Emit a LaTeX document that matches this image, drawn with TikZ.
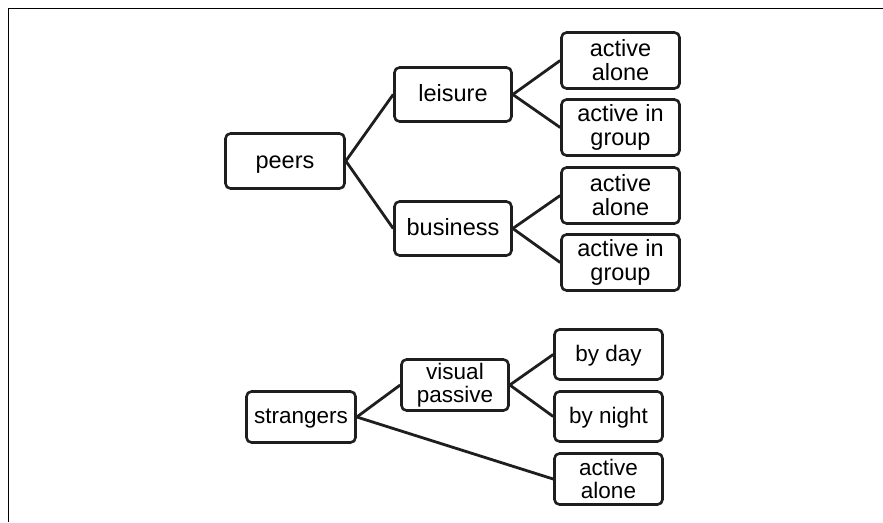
\documentclass[tikz,border=0pt]{standalone}
\usepackage{fontspec}
\setmainfont{Liberation Sans}
\definecolor{ink}{HTML}{1E1E1E}
\begin{document}
\begin{tikzpicture}[x=1pt,y=-1pt,
  box/.style={draw=ink,line width=2.6pt,rounded corners=5pt,align=center,inner sep=0pt,text=black},
  up/.style={box,font=\fontsize{23.5}{24}\selectfont},
  lo/.style={box,font=\fontsize{22.5}{23}\selectfont},
  oneup/.style={text height=20pt,text depth=6pt},
  onelo/.style={text height=19.5pt,text depth=6pt},
  link/.style={draw=ink,line width=2.8pt}]
\useasboundingbox (0,0) rectangle (883,522);
\draw[line width=1.6pt,black] (8.5,522) -- (8.5,8.5) -- (883,8.5);
% upper tree
\node[up,oneup,minimum width=119pt,minimum height=55pt] (peers) at (285,161) {peers};
\node[up,oneup,minimum width=117pt,minimum height=54pt] (leisure) at (453,94.5) {leisure};
\node[up,oneup,minimum width=117pt,minimum height=54pt] (business) at (453,228.5) {business};
\node[up,minimum width=118pt,minimum height=56pt] (aa1) at (620.5,60.5) {active\\alone};
\node[up,minimum width=118pt,minimum height=56pt] (ag1) at (620.5,127.5) {active in\\group};
\node[up,minimum width=118pt,minimum height=56pt] (aa2) at (620.5,195.5) {active\\alone};
\node[up,minimum width=118pt,minimum height=56pt] (ag2) at (620.5,262.5) {active in\\group};
\draw[link] (peers.east) -- (leisure.west);
\draw[link] (peers.east) -- (business.west);
\draw[link] (leisure.east) -- (aa1.west);
\draw[link] (leisure.east) -- (ag1.west);
\draw[link] (business.east) -- (aa2.west);
\draw[link] (business.east) -- (ag2.west);
% lower tree
\node[lo,onelo,minimum width=109pt,minimum height=51pt] (str) at (301,417) {strangers};
\node[lo,minimum width=107pt,minimum height=51pt] (vp) at (455,385) {visual\\passive};
\node[lo,onelo,minimum width=108pt,minimum height=50pt] (day) at (608.5,354.5) {by day};
\node[lo,onelo,minimum width=108pt,minimum height=50pt] (night) at (608.5,416.5) {by night};
\node[lo,minimum width=108pt,minimum height=51pt] (aa3) at (608.5,479) {active\\alone};
\draw[link] (str.east) -- (vp.west);
\draw[link] (str.east) -- (aa3.west);
\draw[link] (vp.east) -- (day.west);
\draw[link] (vp.east) -- (night.west);
\end{tikzpicture}
\end{document}
